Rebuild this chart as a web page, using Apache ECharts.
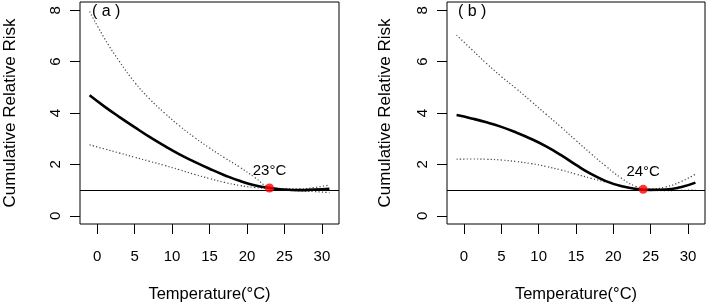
<!DOCTYPE html>
<html>
<head>
<meta charset="utf-8">
<script src="https://cdn.jsdelivr.net/npm/echarts@6/dist/echarts.min.js"></script>
<style>
  html, body { margin: 0; padding: 0; background: #fff; }
  #chart { width: 707px; height: 308px; }
</style>
</head>
<body>
<div id="chart"></div>
<script>
  // data (temperature every 2 °C)
  var temps = [-1, 1, 3, 5, 7, 9, 11, 13, 15, 17, 19, 21, 23, 25, 27, 29, 31];

  var riskA = [4.69, 4.25, 3.84, 3.45, 3.07, 2.72, 2.39, 2.1, 1.83, 1.58, 1.36, 1.19, 1.08, 1.02, 1.0, 1.02, 1.05];
  var upperA = [7.95, 6.9, 6.0, 5.2, 4.55, 4.0, 3.5, 3.05, 2.64, 2.26, 1.9, 1.5, 1.12, 1.05, 1.05, 1.1, 1.2];
  var lowerA = [2.76, 2.6, 2.44, 2.28, 2.12, 1.96, 1.79, 1.61, 1.45, 1.3, 1.18, 1.1, 1.06, 1.0, 0.97, 0.94, 0.9];
  var mmtA = [23, 1.08];

  var riskB = [3.92, 3.79, 3.64, 3.46, 3.24, 2.99, 2.7, 2.36, 1.98, 1.63, 1.35, 1.16, 1.05, 1.01, 1.02, 1.11, 1.29];
  var upperB = [7.03, 6.48, 5.93, 5.42, 4.95, 4.45, 3.95, 3.45, 2.93, 2.42, 1.93, 1.48, 1.15, 1.05, 1.12, 1.32, 1.62];
  var lowerB = [2.2, 2.21, 2.2, 2.17, 2.11, 2.03, 1.92, 1.78, 1.62, 1.46, 1.31, 1.17, 1.05, 0.99, 0.98, 0.99, 1.0];
  var mmtB = [24, 1.03];

  var xTicks = [0, 5, 10, 15, 20, 25, 30];
  var yTicks = [0, 2, 4, 6, 8];

  var font = "'Liberation Sans', Arial, sans-serif";

  function pairs(xs, ys) {
    return xs.map(function (x, i) { return [x, ys[i]]; });
  }

  function xAxisFor(idx) {
    return {
      type: 'value', gridIndex: idx, min: -2.28, max: 32.28,
      name: 'Temperature(°C)', nameLocation: 'middle', nameGap: 62,
      nameTextStyle: { fontFamily: font, fontSize: 16.5, color: '#000' },
      axisLine: { show: false, onZero: false },
      axisTick: { show: true, length: 10, customValues: xTicks, lineStyle: { color: '#000' } },
      axisLabel: { customValues: xTicks, margin: 25, fontFamily: font, fontSize: 15, color: '#000' },
      splitLine: { show: false }
    };
  }

  function yAxisFor(idx, gap) {
    return {
      type: 'value', gridIndex: idx, min: -0.32, max: 8.32,
      name: 'Cumulative Relative Risk', nameLocation: 'middle', nameGap: gap, nameRotate: 90,
      nameTextStyle: { fontFamily: font, fontSize: 17, color: '#000' },
      axisLine: { show: false, onZero: false },
      axisTick: { show: true, length: 10, customValues: yTicks, lineStyle: { color: '#000' } },
      axisLabel: { customValues: yTicks, rotate: 90, margin: 17, fontFamily: font, fontSize: 15, color: '#000' },
      splitLine: { show: false }
    };
  }

  function seriesFor(idx, risk, upper, lower, mmt) {
    var dotted = { color: '#444', width: 1.2, type: [1.2, 2.2] };
    return [
      {
        type: 'line', xAxisIndex: idx, yAxisIndex: idx, data: pairs(temps, upper),
        showSymbol: false, smooth: 0.5, lineStyle: dotted, silent: true
      },
      {
        type: 'line', xAxisIndex: idx, yAxisIndex: idx, data: pairs(temps, lower),
        showSymbol: false, smooth: 0.5, lineStyle: dotted, silent: true
      },
      {
        type: 'line', xAxisIndex: idx, yAxisIndex: idx, data: pairs(temps, risk),
        showSymbol: false, smooth: 0.5, lineStyle: { color: '#000', width: 2.6 }, silent: true,
        markLine: {
          silent: true, symbol: ['none', 'none'], label: { show: false },
          lineStyle: { color: '#000', width: 1, type: 'solid' },
          data: [{ yAxis: 1 }]
        }
      },
      {
        type: 'scatter', xAxisIndex: idx, yAxisIndex: idx, data: [mmt],
        symbolSize: 9, itemStyle: { color: '#ff0000' }, z: 5,
        label: {
          show: true, position: 'top', distance: 5, textBorderWidth: 0, opacity: 1,
          formatter: mmt[0] + '°C', fontFamily: font, fontSize: 15, color: '#000'
        }
      }
    ];
  }

  var myChart = echarts.init(document.getElementById('chart'));
  myChart.setOption({
    animation: false,
    backgroundColor: '#fff',
    grid: [
      { left: 80, top: 2, width: 259, height: 222, show: true, borderColor: '#000', borderWidth: 1, backgroundColor: 'transparent' },
      { left: 447, top: 2, width: 258, height: 222, show: true, borderColor: '#000', borderWidth: 1, backgroundColor: 'transparent' }
    ],
    graphic: [
      { type: 'text', left: 92, top: 4, style: { text: '( a )', font: '16px ' + font, fill: '#000' } },
      { type: 'text', left: 458, top: 4, style: { text: '( b )', font: '16px ' + font, fill: '#000' } }
    ],
    xAxis: [xAxisFor(0), xAxisFor(1)],
    yAxis: [yAxisFor(0, 61), yAxisFor(1, 53)],
    series: seriesFor(0, riskA, upperA, lowerA, mmtA)
      .concat(seriesFor(1, riskB, upperB, lowerB, mmtB))
  });
</script>
</body>
</html>
